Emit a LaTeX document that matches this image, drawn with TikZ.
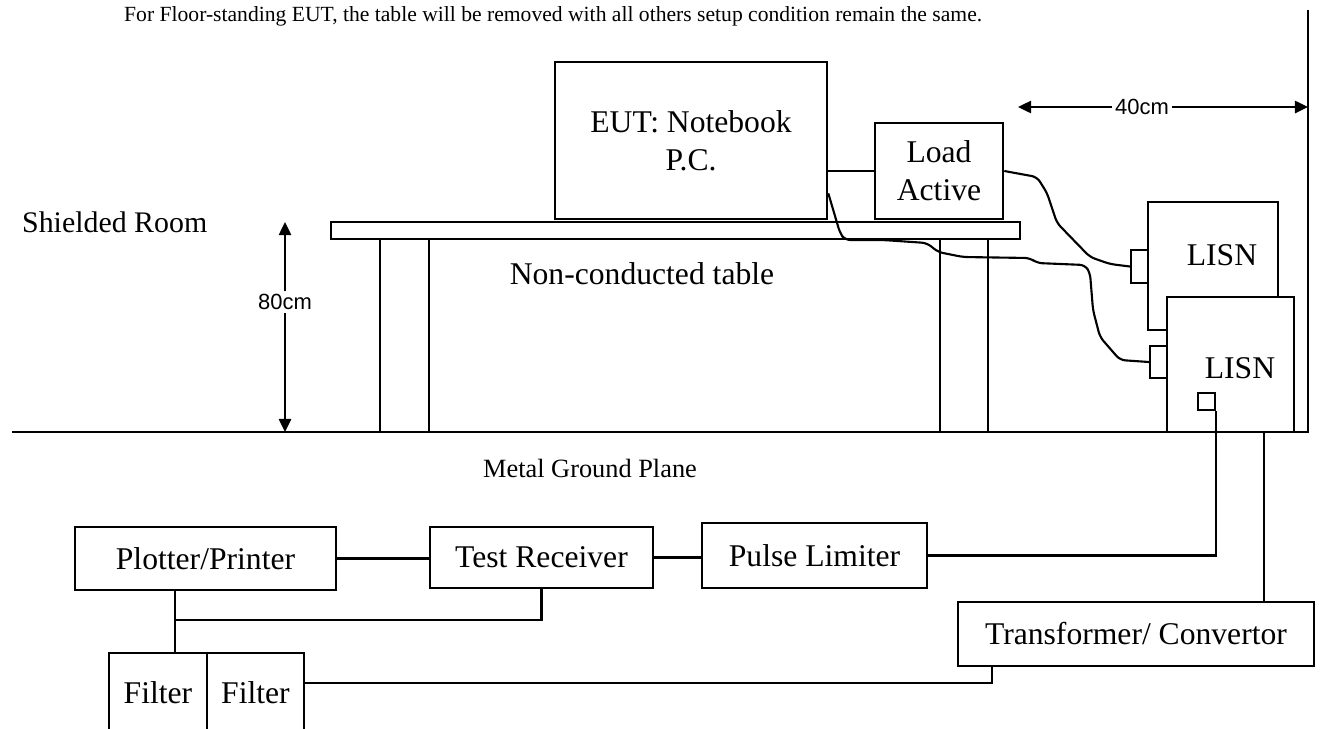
\documentclass[tikz,border=0pt]{standalone}
\usepackage{fontspec}
\setmainfont{Liberation Serif}
\newfontfamily\dimfont{Liberation Sans}
\usetikzlibrary{arrows.meta}

\begin{document}
\begin{tikzpicture}[
        x=0.02cm, y=-0.02cm,
        box/.style={draw, rectangle, line width=1.5pt, fill=white, inner sep=0pt, align=center, font=\fontsize{18}{21.6}\selectfont},
        boxsize/.style 2 args={minimum width=#1*0.02cm, minimum height=#2*0.02cm},
        port/.style={draw, rectangle, line width=1.3pt, fill=white, inner sep=0pt, minimum width=17*0.02cm},
        wire/.style={line width=1.3pt},
        cable/.style={line width=1.2pt, rounded corners=3pt},
        dimarrow/.style={line width=1.2pt, -{Triangle[length=7.5pt, width=7pt]}},
        dimlabel/.style={fill=white, inner sep=1.5pt, font=\dimfont\fontsize{12.5}{15}\selectfont},
        caption/.style={font=\fontsize{18}{21.6}\selectfont}
    ]
    \useasboundingbox (0,0) rectangle (1321,728);

    \node[anchor=west, font=\fontsize{12.3}{15}\selectfont] (note) at (118,16) {For Floor-standing EUT, the table will be removed with all others setup condition remain the same.};

    % shielded room: ground plane and wall
    \coordinate (groundL) at (12,432);
    \coordinate (groundR) at (1308,432);
    \coordinate (wallTop) at (1308,10);
    \draw[wire, line width=1.6pt] (groundL) -- (groundR) -- (wallTop);
    \node[caption, anchor=west, font=\fontsize{17}{20}\selectfont] (room) at (16,222) {Shielded Room};
    \node[caption, font=\fontsize{15}{18}\selectfont] (plane) at (590,468) {Metal Ground Plane};

    % table
    \node[box, boxsize={49}{193}] (legL) at (404.5,335.5) {};
    \node[box, boxsize={48}{193}] (legR) at (964,335.5) {};
    \node[box, boxsize={689}{17}] (tabletop) at (675.5,230.5) {};
    \node[caption] (tablename) at (642,274) {Non-conducted table};

    % 80cm height
    \coordinate (h80top) at (285,222);
    \coordinate (h80bot) at (285,432);
    \node[dimlabel] (h80) at (285,302) {80cm};
    \draw[dimarrow] (h80) -- (h80top);
    \draw[dimarrow] (h80) -- (h80bot);

    % 40cm distance
    \coordinate (d40left) at (1018,107);
    \coordinate (d40right) at (1308,107);
    \node[dimlabel] (d40) at (1142,107) {40cm};
    \draw[dimarrow] (d40) -- (d40left);
    \draw[dimarrow] (d40) -- (d40right);

    % EUT and load
    \node[box, boxsize={272}{157}] (eut) at (691,140.5) {EUT: Notebook\\P.C.};
    \node[box, boxsize={128}{96}] (load) at (939,171) {Load\\Active};
    \draw[wire] (load.west) -- (load.west -| eut.east);

    % LISNs
    \node[box, boxsize={130}{128}] (lisnA) at (1213,266) {};
    \node[box, boxsize={127}{135}] (lisnB) at (1230.5,364.5) {};
    \node[caption] (lisnAname) at (1222,255) {LISN};
    \node[caption] (lisnBname) at (1240,368) {LISN};
    \node[port, minimum height=33*0.02cm] (plugA) at (1139.5,266.5) {};
    \node[port, minimum height=32*0.02cm] (plugB) at (1158.5,362) {};
    \node[port, minimum height=17*0.02cm] (rfport) at (1206.5,401.5) {};

    % power cables
    \draw[cable] (load.east) -- (1037,177) -- (1047,193) -- (1057,223) -- (1090,257) -- (1110,264) -- (plugA.west);
    \draw[cable] (eut.south east) ++(0,-27) -- (840,233) -- (845,240) -- (883,240) -- (927,243) -- (938,252)
        -- (963,257) -- (1030,258) -- (1037,263) -- (1085,265) -- (1090,273) -- (1093,310) -- (1100,337)
        -- (1120,360) -- (plugB.west);

    % measuring chain
    \node[box, boxsize={261}{63}] (plotter) at (205.5,558.5) {Plotter/Printer};
    \node[box, boxsize={223}{61}] (receiver) at (541.5,557.5) {Test Receiver};
    \node[box, boxsize={225}{65}] (limiter) at (814.5,555.5) {Pulse Limiter};
    \node[box, boxsize={356}{64}] (trafo) at (1136,634) {Transformer/ Convertor};
    \node[box, boxsize={98}{80}] (filterA) at (158,693) {Filter};
    \node[box, boxsize={97}{80}] (filterB) at (255.5,693) {Filter};

    \draw[wire] (plotter.east) -- (plotter.east -| receiver.west);
    \draw[wire] (receiver.east) -- (receiver.east -| limiter.west);
    \draw[wire] (rfport.south east) |- (limiter.east);

    \coordinate (tap) at (175,620);
    \draw[wire] (tap |- plotter.south) -- (tap |- filterA.north);
    \draw[wire] (tap) -| (receiver.south);

    \coordinate (mains) at (1264,432);
    \draw[wire] (mains) -- (mains |- trafo.north);

    \coordinate (filterline) at (992,683);
    \draw[wire] (filterline -| filterB.east) -- (filterline) -- (filterline |- trafo.south);
\end{tikzpicture}
\end{document}
